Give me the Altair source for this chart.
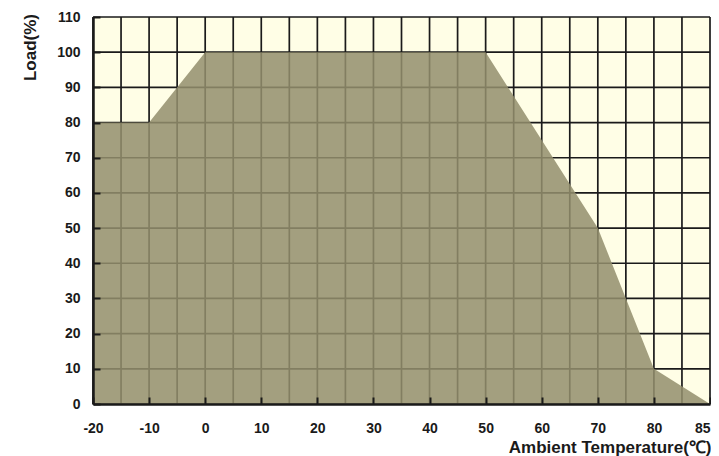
import altair as alt
import pandas as pd

# data
temps = [-20, -10, 0, 50, 70, 80, 85]
loads = [80, 80, 100, 100, 50, 10, 0]

x_ticks = [-20, -10, 0, 10, 20, 30, 40, 50, 60, 70, 80, 85]
x_grid = [-20, -15, -10, -5, 0, 5, 10, 15, 20, 25, 30, 35, 40, 45, 50, 55, 60, 65, 70, 75, 80, 82.5, 85]
y_ticks = [0, 10, 20, 30, 40, 50, 60, 70, 80, 90, 100, 110]

W, H = 617, 387
FONT = "Liberation Sans"

curve = pd.DataFrame({"t": temps, "load": loads})
vgrid = pd.DataFrame({"g": x_grid})
hgrid = pd.DataFrame({"g": y_ticks})

xscale = alt.Scale(domain=[-20, 80, 85], range=[0, W * 20 / 22, W], nice=False, zero=False)
yscale = alt.Scale(domain=[0, 110], nice=False, zero=False)

xaxis = alt.Axis(
    values=x_ticks, title="Ambient Temperature(℃)", grid=False,
    labelExpr="toString(datum.value)",
    labelAlign={"expr": "datum.value == 85 ? 'right' : 'center'"},
    tickSize={"expr": "-7"}, tickWidth=2, tickColor="#1a1a1a",
    domainColor="#1a1a1a", domainWidth=2.5,
    labelFont=FONT, labelFontSize=14, labelFontWeight="bold", labelColor="#1a1a1a",
    labelPadding=24, labelFlush=False, labelOverlap=False,
    titleFont=FONT, titleFontSize=17, titleFontWeight="bold", titleColor="#1a1a1a",
    titleAnchor="end", titleAlign="right", titleBaseline="middle",
    titleX=W + 1, titleY=43, zindex=2,
)
yaxis = alt.Axis(
    values=y_ticks, title="Load(%)", grid=False,
    tickSize={"expr": "-7"}, tickWidth=2, tickColor="#1a1a1a",
    domainColor="#1a1a1a", domainWidth=2.5,
    labelFont=FONT, labelFontSize=14, labelFontWeight="bold", labelColor="#1a1a1a",
    labelPadding=20, labelFlush=False, labelOverlap=False,
    titleFont=FONT, titleFontSize=17, titleFontWeight="bold", titleColor="#1a1a1a",
    titleAngle=-90, titleAlign="center", titleBaseline="middle",
    titleX=-63, titleY=30, zindex=2,
)

vrules = alt.Chart(vgrid).mark_rule(color="#1a1a1a", strokeWidth=1.7).encode(
    x=alt.X("g:Q", scale=xscale, axis=xaxis)
)
hrules = alt.Chart(hgrid).mark_rule(color="#1a1a1a", strokeWidth=1.7).encode(
    y=alt.Y("g:Q", scale=yscale, axis=yaxis)
)
area = alt.Chart(curve).mark_area(color="#948f6d", opacity=0.86, interpolate="linear").encode(
    x=alt.X("t:Q", scale=xscale, axis=xaxis),
    y=alt.Y("load:Q", scale=yscale, axis=yaxis),
)

chart = alt.layer(vrules, hrules, area).properties(
    width=W, height=H,
    autosize=alt.AutoSizeParams(type="none"),
    padding={"left": 85, "top": 9, "right": 1, "bottom": 52},
).configure_view(fill="#fffee6", stroke=None)

chart.save("out.html", embed_options={"renderer": "svg", "actions": False})
